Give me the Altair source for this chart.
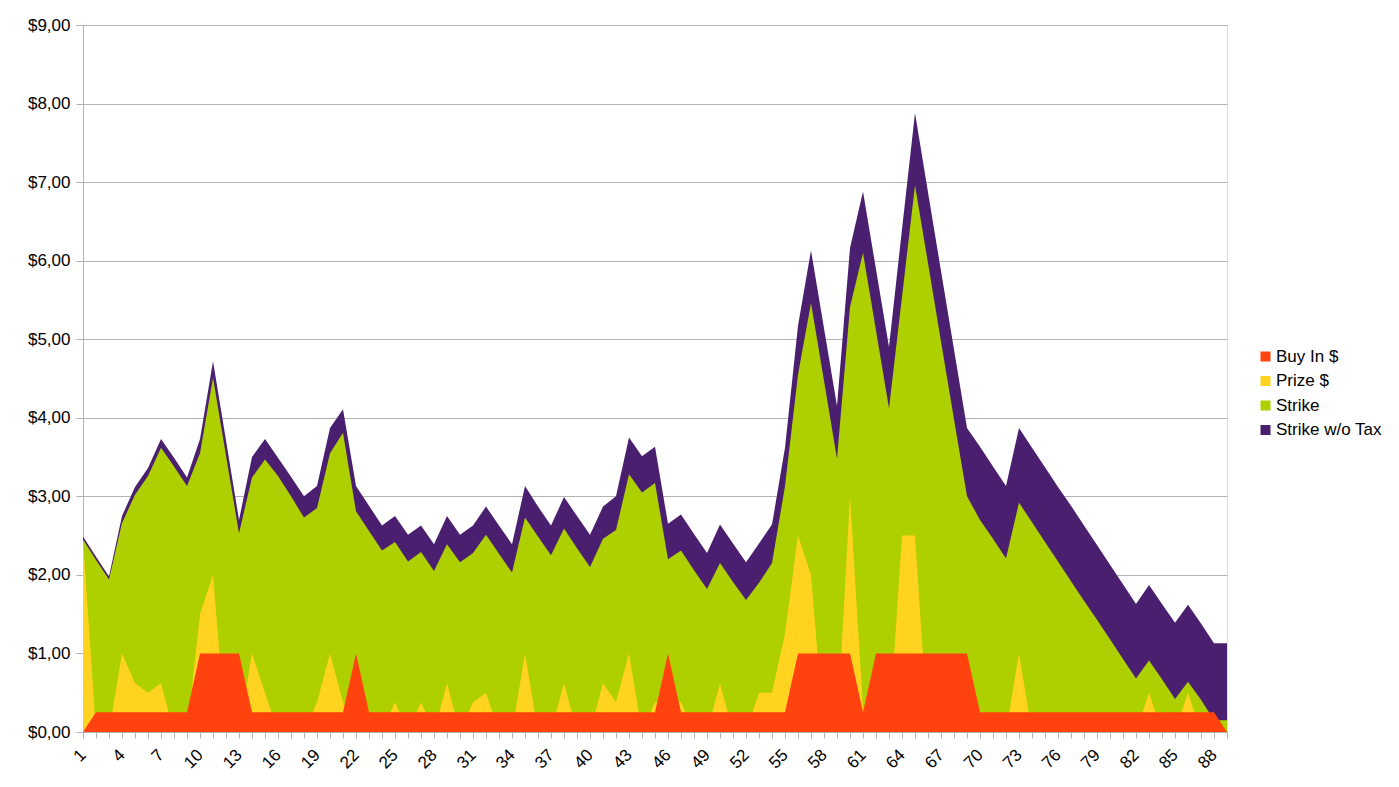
import altair as alt
import pandas as pd

games = list(range(1, 90))

buy_in = ([0.0] + [0.25] * 8 + [1.0] * 4 + [0.25] * 8 + [1.0] + [0.25] * 23 + [1.0]
          + [0.25] * 9 + [1.0] * 5 + [0.25] + [1.0] * 8 + [0.25] * 19 + [0.0])

prize = [2.45, 0, 0, 1.0, 0.62, 0.5, 0.62, 0, 0, 1.5,
         2.0, 0, 0, 1.0, 0.5, 0, 0, 0, 0.38, 1.0,
         0.38, 0, 0, 0, 0.38, 0, 0.38, 0, 0.62, 0,
         0.38, 0.5, 0, 0, 1.0, 0, 0, 0.62, 0, 0,
         0.62, 0.38, 1.0, 0, 0.38, 0.38, 0.38, 0, 0, 0.62,
         0, 0, 0.5, 0.5, 1.25, 2.5, 2.0, 0, 0, 3.0,
         0.3, 0, 0, 2.5, 2.5, 0, 0, 0, 0, 0,
         0, 0, 1.0, 0, 0, 0, 0, 0, 0, 0,
         0, 0, 0.5, 0, 0, 0.5, 0, 0, 0]

strike = [2.45, 2.19, 1.94, 2.66, 3.02, 3.26, 3.62, 3.38, 3.13, 3.55,
          4.51, 3.52, 2.53, 3.24, 3.47, 3.26, 3.0, 2.73, 2.85, 3.55,
          3.81, 2.81, 2.56, 2.31, 2.42, 2.17, 2.29, 2.05, 2.39, 2.16,
          2.28, 2.51, 2.27, 2.03, 2.73, 2.49, 2.25, 2.59, 2.34, 2.10,
          2.46, 2.57, 3.28, 3.05, 3.17, 2.20, 2.31, 2.06, 1.82, 2.15,
          1.91, 1.68, 1.90, 2.15, 3.13, 4.55, 5.46, 4.47, 3.48, 5.41,
          6.10, 5.11, 4.12, 5.54, 6.96, 5.97, 4.97, 3.98, 3.0, 2.70,
          2.46, 2.21, 2.92, 2.67, 2.42, 2.17, 1.92, 1.67, 1.43, 1.18,
          0.93, 0.68, 0.91, 0.67, 0.42, 0.64, 0.41, 0.15, 0.15]

strike_no_tax = [2.49, 2.23, 1.98, 2.75, 3.12, 3.36, 3.73, 3.49, 3.24, 3.73,
                 4.72, 3.71, 2.70, 3.50, 3.73, 3.49, 3.25, 3.0, 3.13, 3.87,
                 4.11, 3.13, 2.88, 2.63, 2.75, 2.51, 2.63, 2.39, 2.75, 2.51,
                 2.63, 2.87, 2.63, 2.39, 3.13, 2.87, 2.63, 2.99, 2.75, 2.51,
                 2.87, 3.0, 3.75, 3.51, 3.63, 2.65, 2.77, 2.52, 2.28, 2.64,
                 2.40, 2.16, 2.40, 2.64, 3.62, 5.17, 6.13, 5.14, 4.15, 6.16,
                 6.88, 5.89, 4.90, 6.40, 7.88, 6.87, 5.87, 4.87, 3.87, 3.63,
                 3.38, 3.13, 3.87, 3.62, 3.37, 3.12, 2.88, 2.63, 2.38, 2.13,
                 1.88, 1.63, 1.87, 1.63, 1.39, 1.62, 1.38, 1.13, 1.13]

series_names = ["Buy In $", "Prize $", "Strike", "Strike w/o Tax"]
series_colors = ["#ff420e", "#ffd320", "#aecf00", "#4b1f6f"]
x_ticks = list(range(1, 90))
y_ticks = list(range(0, 10))

rows = []
for name, vals in zip(series_names, [buy_in, prize, strike, strike_no_tax]):
    for g, v in zip(games, vals):
        rows.append({"game": g, "value": v, "series": name})
df = pd.DataFrame(rows)

FONT = "Liberation Sans"
GRID = "#b3b3b3"

x_enc = alt.X(
    "game:Q",
    scale=alt.Scale(domain=[1, 89], nice=False, zero=False),
    axis=alt.Axis(
        title=None, values=x_ticks, grid=False,
        labelExpr="(datum.value - 1) % 3 == 0 ? datum.label : ''",
        labelAngle=315, labelAlign="right", labelBaseline="middle",
        labelFontSize=17, labelFont=FONT, labelColor="#000000",
        labelOverlap=False, tickSize=6, tickColor=GRID, domainColor=GRID,
        labelPadding=14,
    ),
)
y_enc = alt.Y(
    "value:Q",
    stack=None,
    scale=alt.Scale(domain=[0, 9], nice=False),
    axis=alt.Axis(
        title=None, values=y_ticks, grid=True, gridColor=GRID,
        labelExpr="'$' + replace(format(datum.value, '.2f'), '.', ',')",
        labelFontSize=17, labelFont=FONT, labelColor="#000000",
        tickSize=7, tickColor=GRID, domainColor=GRID, labelPadding=6,
    ),
)
color_enc = alt.Color(
    "series:N",
    scale=alt.Scale(domain=series_names, range=series_colors),
    legend=alt.Legend(
        title=None, orient="none", legendX=1174, legendY=323,
        symbolType="square", symbolSize=100, symbolStrokeWidth=0,
        labelFontSize=17, labelFont=FONT, labelColor="#000000",
        labelOffset=2, rowPadding=6.5, padding=0,
    ),
)

layers = []
for name in ["Strike w/o Tax", "Strike", "Prize $", "Buy In $"]:
    layers.append(
        alt.Chart(df)
        .transform_filter(alt.datum.series == name)
        .mark_area(interpolate="linear", opacity=1)
        .encode(x=x_enc, y=y_enc, color=color_enc)
    )

chart = (
    alt.layer(*layers)
    .properties(
        width=1144, height=707,
        autosize=alt.AutoSizeParams(type="none"),
        padding={"left": 75, "top": 17, "right": 160, "bottom": 45},
    )
    .configure_view(stroke=GRID, strokeWidth=1)
    .configure(background="white")
)

chart.save("out.html", embed_options={"renderer": "svg", "actions": False})
